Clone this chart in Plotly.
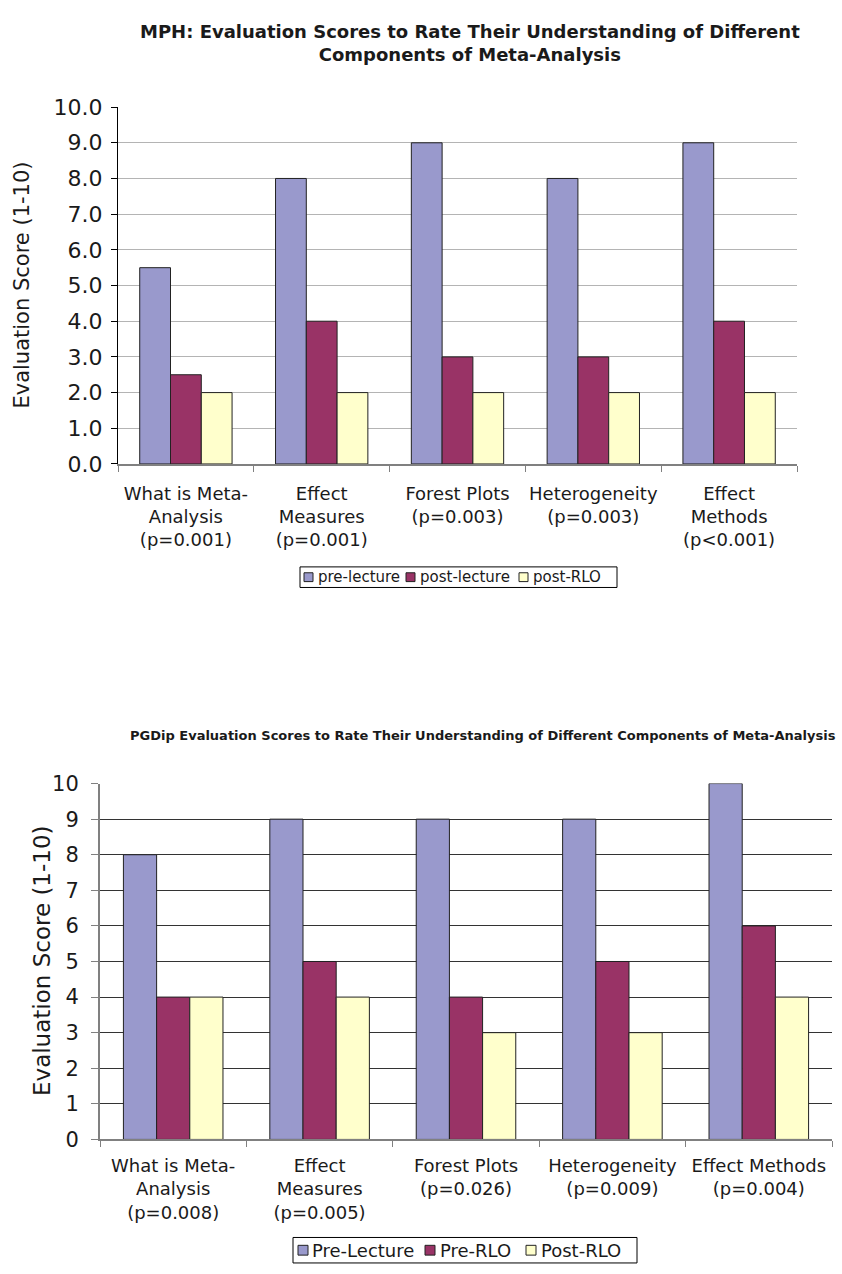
import plotly.graph_objects as go

W, H = 842, 1274
FONT = "DejaVu Sans"
TEXT = "#1a1a1a"

# ---- MPH cohort ----
mph_categories = [
    "What is Meta-<br>Analysis<br>(p=0.001)",
    "Effect<br>Measures<br>(p=0.001)",
    "Forest Plots<br>(p=0.003)",
    "Heterogeneity<br>(p=0.003)",
    "Effect<br>Methods<br>(p<0.001)",
]
mph_series = ["pre-lecture", "post-lecture", "post-RLO"]
mph_pre_lecture = [5.5, 8, 9, 8, 9]
mph_post_lecture = [2.5, 4, 3, 3, 4]
mph_post_rlo = [2, 2, 2, 2, 2]

# ---- PGDip cohort ----
pgdip_categories = [
    "What is Meta-<br>Analysis<br>(p=0.008)",
    "Effect<br>Measures<br>(p=0.005)",
    "Forest Plots<br>(p=0.026)",
    "Heterogeneity<br>(p=0.009)",
    "Effect Methods<br>(p=0.004)",
]
pgdip_series = ["Pre-Lecture", "Pre-RLO", "Post-RLO"]
pgdip_pre_lecture = [8, 9, 9, 9, 10]
pgdip_pre_rlo = [4, 5, 4, 5, 6]
pgdip_post_rlo = [4, 4, 3, 3, 4]

series_colors = ["#9999CC", "#993366", "#FFFFCC"]
y_title = "Evaluation Score (1-10)"


def px(x):
    return x / W


def py(y):
    return 1 - y / H


fig = go.Figure()

for name, vals, col in zip(mph_series, [mph_pre_lecture, mph_post_lecture, mph_post_rlo], series_colors):
    fig.add_trace(go.Bar(x=mph_categories, y=vals, name=name, marker_color=col,
                         marker_line=dict(color="#222222", width=1),
                         xaxis="x", yaxis="y", showlegend=False))

for name, vals, col in zip(pgdip_series, [pgdip_pre_lecture, pgdip_pre_rlo, pgdip_post_rlo], series_colors):
    fig.add_trace(go.Bar(x=pgdip_categories, y=vals, name=name, marker_color=col,
                         marker_line=dict(color="#222222", width=1),
                         xaxis="x2", yaxis="y2", showlegend=False))

fig.update_layout(
    width=W, height=H,
    margin=dict(l=0, r=0, t=0, b=0),
    paper_bgcolor="white", plot_bgcolor="white",
    barmode="group", bargap=0.32, bargroupgap=0,
    font=dict(family=FONT, color=TEXT),
    xaxis=dict(domain=[px(118), px(797)], anchor="y",
               showline=True, linecolor="#808080", linewidth=2,
               ticks="outside", tickson="boundaries", ticklen=6, tickcolor="#808080",
               tickfont=dict(size=18), tickangle=0, ticklabelstandoff=12, showgrid=False),
    yaxis=dict(domain=[py(461), py(97)], anchor="x", range=[0, 10], dtick=1,
               tickformat=".1f", showline=True, linecolor="#000000", linewidth=1,
               ticks="outside", ticklen=6, tickcolor="#000000",
               tickfont=dict(size=22), ticklabelstandoff=4,
               showgrid=True, gridcolor="#b4b4b4", gridwidth=1, zeroline=False),
    xaxis2=dict(domain=[px(100), px(832)], anchor="y2",
                showline=True, linecolor="#808080", linewidth=2,
                ticks="outside", tickson="boundaries", ticklen=6, tickcolor="#808080",
                tickfont=dict(size=18), tickangle=0, ticklabelstandoff=9, showgrid=False),
    yaxis2=dict(domain=[py(1150), py(787)], anchor="x2", range=[0, 10], dtick=1,
                showline=True, linecolor="#808080", linewidth=2,
                ticks="outside", ticklen=7, tickcolor="#808080",
                tickfont=dict(size=21), ticklabelstandoff=8,
                showgrid=True, gridcolor="#333333", gridwidth=1, zeroline=False),
)

# y-axis titles
fig.add_annotation(text=y_title, x=px(22), y=py(279), xref="paper", yref="paper",
                   showarrow=False, textangle=-90, xanchor="center", yanchor="middle",
                   font=dict(size=21, color=TEXT))
fig.add_annotation(text=y_title, x=px(42), y=py(968), xref="paper", yref="paper",
                   showarrow=False, textangle=-90, xanchor="center", yanchor="middle",
                   font=dict(size=23, color=TEXT))

# chart titles
fig.add_annotation(text="<b>MPH: Evaluation Scores to Rate Their Understanding of Different<br>Components of Meta-Analysis</b>",
                   x=px(470), y=py(32), xref="paper", yref="paper", showarrow=False,
                   xanchor="center", yanchor="middle", font=dict(size=18, color=TEXT))
fig.add_annotation(text="<b>PGDip Evaluation Scores to Rate Their Understanding of Different Components of Meta-Analysis</b>",
                   x=px(483), y=py(738), xref="paper", yref="paper", showarrow=False,
                   xanchor="center", yanchor="middle", font=dict(size=13, color=TEXT))


def add_key(box, names, square_x, text_x, sq, size):
    x0, y0, x1, y1 = box
    yc = (y0 + y1) / 2
    fig.add_shape(type="rect", xref="paper", yref="paper",
                  x0=px(x0), x1=px(x1), y0=py(y1), y1=py(y0),
                  line=dict(color="#000000", width=1), fillcolor="white")
    for name, col, sx, tx in zip(names, series_colors, square_x, text_x):
        fig.add_shape(type="rect", xref="paper", yref="paper",
                      x0=px(sx), x1=px(sx + sq), y0=py(yc + sq / 2), y1=py(yc - sq / 2),
                      line=dict(color="#222222", width=1), fillcolor=col)
        fig.add_annotation(text=name, x=px(tx), y=py(yc), xref="paper", yref="paper",
                           showarrow=False, xanchor="left", yanchor="middle",
                           font=dict(size=size, color=TEXT))


add_key((300, 566, 617, 587), mph_series, [304, 406, 519], [316, 418, 531], 9, 15)
add_key((293, 1250, 637, 1276), pgdip_series, [298, 425, 526], [310, 438, 539], 10, 18)

fig.write_html("out.html")
